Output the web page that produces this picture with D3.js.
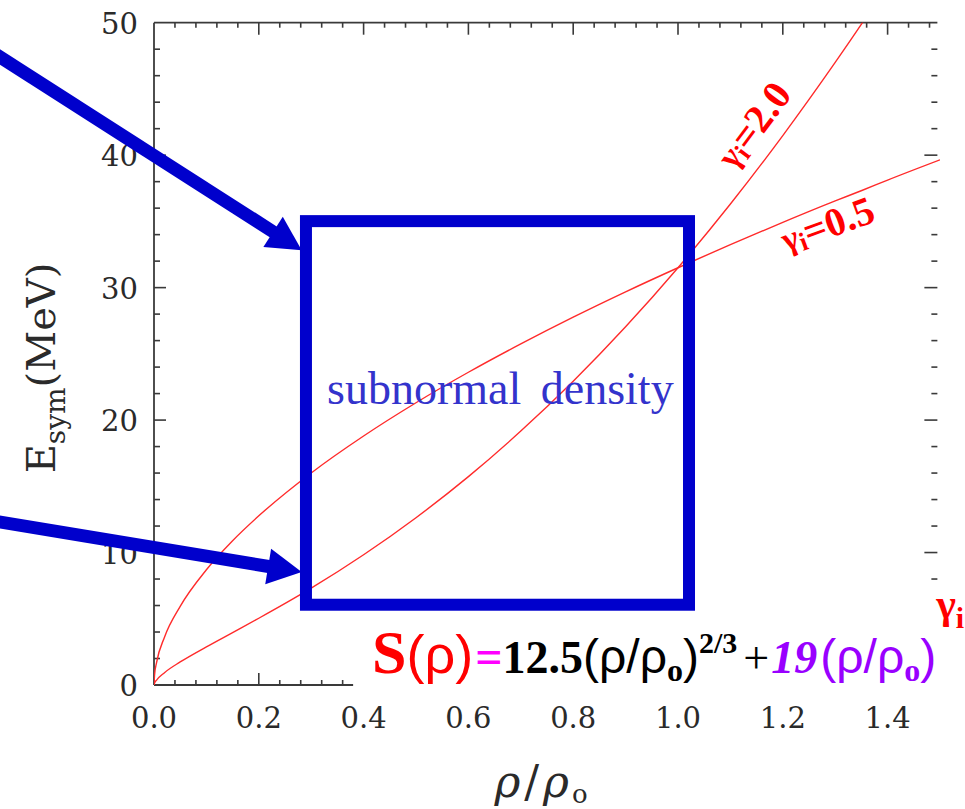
<!DOCTYPE html>
<html>
<head>
<meta charset="utf-8">
<script src="https://cdn.jsdelivr.net/npm/d3@7"></script>
<style>
  html, body { margin: 0; padding: 0; background: #fff; }
  svg { display: block; }
</style>
</head>
<body>
<svg id="chart" width="965" height="809"></svg>
<script>
// density ratio rho/rho0
const rhoValues = [0, 0.001, 0.005, 0.02, 0.05, 0.1, 0.15, 0.2, 0.3, 0.4, 0.5, 0.6, 0.7, 0.8, 0.9, 1.0, 1.1, 1.2, 1.3, 1.352, 1.4, 1.5];
// Esym for gamma_i = 0.5
const esymSoft = [0, 0.73, 1.71, 3.61, 5.94, 8.70, 10.89, 12.77, 16.01, 18.80, 21.31, 23.61, 25.75, 27.77, 29.68, 31.5, 33.25, 34.93, 36.55, 37.35, 38.12, 39.65];
// Esym for gamma_i = 2.0
const esymStiff = [0, 0.13, 0.37, 0.93, 1.74, 2.88, 3.96, 5.04, 7.31, 9.83, 12.63, 15.73, 19.17, 22.93, 27.04, 31.5, 36.31, 41.48, 47.0, 50.0, 52.9, 58.7];

const xMajorTicks = [0, 0.2, 0.4, 0.6, 0.8, 1.0, 1.2, 1.4];
const xTickLabels = ["0.0", "0.2", "0.4", "0.6", "0.8", "1.0", "1.2", "1.4"];
const yMajorTicks = [0, 10, 20, 30, 40, 50];
const yTickLabels = ["0", "10", "20", "30", "40", "50"];

// annotations, in data units
const boxCorners = [[0.29, 35.02], [1.021, 6.06]];
const arrowLines = [
  [[-0.2933, 47.4], [0.2819, 32.83]],
  [[-0.2933, 12.3], [0.2819, 8.53]],
];
const curveLabels = [
  { text: "2.0", at: [1.143, 42.3], angle: -53 },
  { text: "0.5", at: [1.285, 34.8], angle: -20 },
];

const svg = d3.select("#chart");
const x = d3.scaleLinear().domain([0, 1.5]).range([154, 940]);
const y = d3.scaleLinear().domain([0, 50]).range([685, 22.7]);

const AXIS = "#3a3a3a";
const TICKFONT = "'DejaVu Serif', serif";
const TIMES = "'Liberation Serif', serif";
const SANS = "'Liberation Sans', sans-serif";

svg.append("clipPath").attr("id", "plotClip")
  .append("rect")
  .attr("x", x(0)).attr("y", y(50))
  .attr("width", x(1.5) - x(0)).attr("height", y(0) - y(50));

// frame: left, top, and the short visible piece of the bottom axis
const frame = svg.append("g").attr("stroke", AXIS).attr("stroke-width", 1.8).attr("fill", "none");
frame.append("line").attr("x1", x(0)).attr("x2", x(0)).attr("y1", y(0)).attr("y2", y(50));
frame.append("line").attr("x1", x(0)).attr("x2", x(1.495)).attr("y1", y(50)).attr("y2", y(50));
frame.append("line").attr("x1", x(0)).attr("x2", x(0.38)).attr("y1", y(0)).attr("y2", y(0));

const xMinor = d3.range(0, 1.4801, 0.04).map((v) => +v.toFixed(2));
const yMinor = d3.range(0, 50.01, 2);
const isMajorX = (v) => Math.abs(v * 5 - Math.round(v * 5)) < 1e-6;
const isMajorY = (v) => v % 10 === 0;

const ticks = svg.append("g").attr("stroke", AXIS).attr("stroke-width", 1.6);
// top ticks (point down)
ticks.selectAll(".tt").data(xMinor.filter((v) => v > 0)).join("line")
  .attr("x1", (d) => x(d)).attr("x2", (d) => x(d))
  .attr("y1", y(50)).attr("y2", (d) => y(50) + (isMajorX(d) ? 12 : 5));
// bottom ticks (point up), only where the axis shows
ticks.selectAll(".bt").data(xMinor.filter((v) => v > 0 && v < 0.38)).join("line")
  .attr("x1", (d) => x(d)).attr("x2", (d) => x(d))
  .attr("y1", y(0)).attr("y2", (d) => y(0) - (isMajorX(d) ? 12 : 5));
// left ticks (point right)
ticks.selectAll(".lt").data(yMinor.filter((v) => v > 0 && v < 50)).join("line")
  .attr("x1", x(0)).attr("x2", (d) => x(0) + (isMajorY(d) ? 12 : 6))
  .attr("y1", (d) => y(d)).attr("y2", (d) => y(d));
// right ticks (point left), no axis line
ticks.selectAll(".rt").data(yMinor.filter((v) => v >= 8 && v < 50)).join("line")
  .attr("x1", x(1.495)).attr("x2", (d) => x(1.495) - (isMajorY(d) ? 13 : 6))
  .attr("y1", (d) => y(d)).attr("y2", (d) => y(d));

// tick labels
svg.append("g").selectAll("text").data(xMajorTicks).join("text")
  .attr("x", (d) => x(d)).attr("y", y(0) + 43)
  .attr("text-anchor", "middle")
  .attr("font-family", TICKFONT).attr("font-size", 29).attr("fill", "#2a2a2a")
  .text((d, i) => xTickLabels[i]);
svg.append("g").selectAll("text").data(yMajorTicks).join("text")
  .attr("x", x(0) - 16).attr("y", (d) => y(d) + 11)
  .attr("text-anchor", "end")
  .attr("font-family", TICKFONT).attr("font-size", 29).attr("fill", "#2a2a2a")
  .text((d, i) => yTickLabels[i]);

// axis titles
const yTitle = svg.append("text")
  .attr("transform", "translate(55,368) rotate(-90)")
  .attr("text-anchor", "middle")
  .attr("font-family", TICKFONT).attr("font-size", 40).attr("fill", "#2a2a2a");
yTitle.append("tspan").text("E");
yTitle.append("tspan").attr("font-size", 28).attr("dy", 10).text("sym");
yTitle.append("tspan").attr("dy", -10).text("(MeV)");

const xTitle = svg.append("text")
  .attr("x", 541).attr("y", 797)
  .attr("text-anchor", "middle")
  .attr("font-family", TICKFONT).attr("font-size", 44).attr("fill", "#2a2a2a");
xTitle.append("tspan").attr("font-style", "italic").text("ρ");
xTitle.append("tspan").attr("dx", 4).text("/");
xTitle.append("tspan").attr("dx", 4).attr("font-style", "italic").text("ρ");
xTitle.append("tspan").attr("font-size", 26).attr("dx", 3).attr("dy", 6).text("o");

// curves
const line = d3.line()
  .x((d) => x(d[0])).y((d) => y(d[1]))
  .curve(d3.curveMonotoneX);
const curves = [esymSoft, esymStiff].map((ys) => rhoValues.map((r, i) => [r, ys[i]]));
svg.append("g").attr("clip-path", "url(#plotClip)")
  .selectAll("path").data(curves).join("path")
  .attr("d", line)
  .attr("fill", "none").attr("stroke", "#ff2b2b").attr("stroke-width", 1.4);

// curve labels
curveLabels.forEach((c) => {
  const t = svg.append("text")
    .attr("transform", "translate(" + x(c.at[0]) + "," + y(c.at[1]) + ") rotate(" + c.angle + ")")
    .attr("text-anchor", "middle").attr("dominant-baseline", "central")
    .attr("font-family", TIMES).attr("font-weight", "bold").attr("fill", "#ff0000")
    .attr("font-size", 40);
  t.append("tspan").attr("font-size", 34).text("γ");
  t.append("tspan").attr("font-size", 26).attr("dy", 8).text("i");
  t.append("tspan").attr("dy", -8).text("=" + c.text);
});

// blue box and arrows
svg.append("rect")
  .attr("x", x(boxCorners[0][0])).attr("y", y(boxCorners[0][1]))
  .attr("width", x(boxCorners[1][0]) - x(boxCorners[0][0]))
  .attr("height", y(boxCorners[1][1]) - y(boxCorners[0][1]))
  .attr("fill", "none").attr("stroke", "#0000cc").attr("stroke-width", 12);

arrowLines.forEach((a) => {
  const x0 = x(a[0][0]), y0 = y(a[0][1]), x1 = x(a[1][0]), y1 = y(a[1][1]);
  const len = Math.hypot(x1 - x0, y1 - y0);
  const ux = (x1 - x0) / len, uy = (y1 - y0) / len;
  const headLen = 34, headHalf = 18;
  const bx = x1 - ux * headLen, by = y1 - uy * headLen;
  svg.append("line")
    .attr("x1", x0 - ux * 10).attr("y1", y0 - uy * 10)
    .attr("x2", bx + ux * 2).attr("y2", by + uy * 2)
    .attr("stroke", "#0000cc").attr("stroke-width", 13);
  svg.append("polygon")
    .attr("points", [
      [x1, y1],
      [bx - uy * headHalf, by + ux * headHalf],
      [bx + uy * headHalf, by - ux * headHalf],
    ].map((p) => p.join(",")).join(" "))
    .attr("fill", "#0000cc");
});

svg.append("text")
  .attr("x", x(0.661)).attr("y", y(21.2))
  .attr("text-anchor", "middle")
  .attr("font-family", TIMES).attr("font-size", 46).attr("word-spacing", 8)
  .attr("fill", "#3333cc")
  .text("subnormal density");

// formula, laid out piece by piece
const formulaParts = [
  { t: "S", size: 62, color: "#ff0000", font: TIMES, bold: true },
  { t: "(ρ)", size: 54, color: "#ff0000", font: SANS },
  { t: "=", size: 48, color: "#ff00ff", font: TIMES, bold: true, dx: 2 },
  { t: "12.5", size: 46, color: "#000", font: TIMES, bold: true },
  { t: "(ρ/ρ", size: 48, color: "#000", font: SANS },
  { t: "o", size: 32, color: "#000", font: TIMES, bold: true, dy: 8 },
  { t: ")", size: 48, color: "#000", font: SANS },
  { t: "2/3", size: 30, color: "#000", font: TIMES, bold: true, dy: -20 },
  { t: "+", size: 46, color: "#000", font: TIMES, dx: 6 },
  { t: "19", size: 46, color: "#9900ff", font: TIMES, bold: true, italic: true, dx: 2 },
  { t: "(ρ/ρ", size: 48, color: "#9900ff", font: SANS },
  { t: "o", size: 32, color: "#9900ff", font: TIMES, bold: true, dy: 8 },
  { t: ")", size: 48, color: "#9900ff", font: SANS },
  { t: "γ", size: 42, color: "#ff0000", font: TIMES, bold: true, dy: -55 },
  { t: "i", size: 30, color: "#ff0000", font: TIMES, bold: true, dy: -45 },
];
const formula = svg.append("g");
let fx = 372;
const fBase = 673;
formulaParts.forEach((p) => {
  fx += p.dx || 0;
  const tx = formula.append("text")
    .attr("x", fx).attr("y", fBase + (p.dy || 0))
    .attr("font-family", p.font).attr("font-size", p.size).attr("fill", p.color)
    .attr("font-weight", p.bold ? "bold" : "normal")
    .attr("font-style", p.italic ? "italic" : "normal")
    .text(p.t);
  fx += tx.node().getComputedTextLength() + (p.italic ? 3 : 0);
});
</script>
</body>
</html>
